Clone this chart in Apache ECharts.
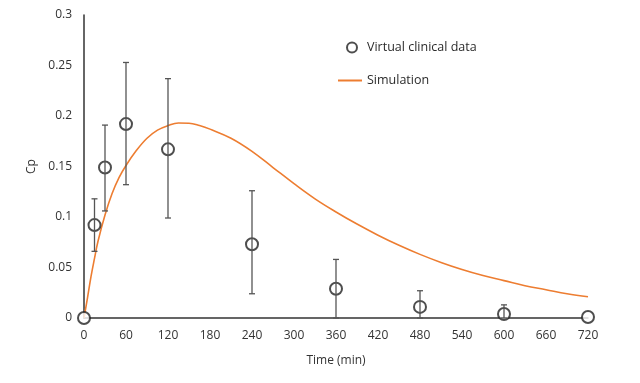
<!DOCTYPE html>
<html><head><meta charset="utf-8">
<script src="https://cdn.jsdelivr.net/npm/echarts@6/dist/echarts.min.js"></script>
<style>html,body{margin:0;padding:0;background:#fff}#c{width:640px;height:383px}</style>
</head><body><div id="c"></div>
<script>
// Virtual clinical data (time in min, Cp mean, lower, upper)
var obsTime  = [0, 15, 30, 60, 120, 240, 360, 480, 600, 720];
var obsMean  = [0, 0.092, 0.149, 0.192, 0.167, 0.073, 0.029, 0.011, 0.004, 0.001];
var obsLow   = [0, 0.066, 0.106, 0.132, 0.099, 0.024, 0.000, 0.000, 0.000, 0.001];
var obsHigh  = [0, 0.118, 0.191, 0.253, 0.237, 0.126, 0.058, 0.027, 0.013, 0.001];
// Simulation curve
var simTime  = [0, 5, 10, 15, 20, 30, 40, 50, 60, 75, 90, 105, 120, 135, 150, 165, 180, 210, 240, 270, 300, 330, 360, 390, 420, 450, 480, 510, 540, 570, 600, 630, 660, 690, 720];
var simCp    = [0, 0.020, 0.041, 0.059, 0.076, 0.102, 0.123, 0.139, 0.151, 0.166, 0.178, 0.186, 0.1905, 0.1930, 0.1928, 0.1905, 0.1870, 0.178, 0.165, 0.149, 0.133, 0.118, 0.105, 0.093, 0.082, 0.072, 0.063, 0.055, 0.048, 0.042, 0.037, 0.032, 0.028, 0.024, 0.021];
var xTicks = [0, 60, 120, 180, 240, 300, 360, 420, 480, 540, 600, 660, 720];
var yTicks = [0, 0.05, 0.1, 0.15, 0.2, 0.25, 0.3];

var FONT = '"Open Sans", "Noto Sans", sans-serif';
var chart = echarts.init(document.getElementById('c'), null, {renderer:'canvas'});
var errData = obsTime.map(function(t,i){return [t, obsLow[i], obsHigh[i]];});
chart.setOption({
  animation:false,
  grid:{left:84, right:52, top:15, bottom:65},
  legend:[
    {data:[{name:'Virtual clinical data', icon:'emptyCircle'}], left:341, top:36, itemWidth:10, itemHeight:10,
     textStyle:{fontFamily:FONT, fontSize:12.5, color:'#2b2b2b', padding:[0,0,0,5]}},
    {data:[{name:'Simulation', icon:'rect'}], left:333, top:69, itemWidth:24, itemHeight:2,
     itemStyle:{color:'#ED7D31'},
     textStyle:{fontFamily:FONT, fontSize:12.5, color:'#2b2b2b', padding:[0,0,0,0]}}
  ],
  xAxis:{type:'value', min:xTicks[0], max:xTicks[xTicks.length-1], interval:60,
    name:'Time (min)', nameLocation:'middle', nameGap:37,
    nameTextStyle:{fontFamily:FONT, fontSize:12, color:'#333'},
    axisLine:{show:true, onZero:false, lineStyle:{color:'#333', width:1.5}},
    axisTick:{show:false}, splitLine:{show:false},
    axisLabel:{fontFamily:FONT, fontSize:12, color:'#333', margin:12}},
  yAxis:{type:'value', min:yTicks[0], max:yTicks[yTicks.length-1], interval:0.05,
    name:'Cp', nameLocation:'middle', nameGap:45,
    nameTextStyle:{fontFamily:FONT, fontSize:12, color:'#333'},
    axisLine:{show:true, lineStyle:{color:'#333', width:1.5}},
    axisTick:{show:false}, splitLine:{show:false},
    axisLabel:{fontFamily:FONT, fontSize:12, color:'#333', margin:12}},
  series:[
    {name:'Simulation', type:'line', data:simTime.map(function(t,i){return [t, simCp[i]];}),
     smooth:0.4, showSymbol:false, symbol:'none', lineStyle:{color:'#ED7D31', width:1.6}, itemStyle:{color:'#ED7D31'}, z:2},
    {name:'Virtual clinical data', type:'scatter', data:obsTime.map(function(t,i){return [t, obsMean[i]];}),
     symbol:'emptyCircle', symbolSize:12, z:3,
     itemStyle:{color:'#222', borderColor:'#222', borderWidth:1.6}},
    {name:'err', type:'custom', data:errData, z:4,
     renderItem:function(params, api){
       var x = api.value(0);
       var lo = api.coord([x, api.value(1)]);
       var hi = api.coord([x, api.value(2)]);
       if (Math.abs(hi[1]-lo[1]) < 1) return {type:'group', children:[]};
       var w = 3;
       var st = {stroke:'#555', lineWidth:1.3};
       return {type:'group', children:[
         {type:'line', shape:{x1:lo[0], y1:lo[1], x2:hi[0], y2:hi[1]}, style:st},
         {type:'line', shape:{x1:lo[0]-w, y1:lo[1], x2:lo[0]+w, y2:lo[1]}, style:st},
         {type:'line', shape:{x1:hi[0]-w, y1:hi[1], x2:hi[0]+w, y2:hi[1]}, style:st}
       ]};
     },
     encode:{x:0, y:[1,2]}}
  ]
});
</script></body></html>
